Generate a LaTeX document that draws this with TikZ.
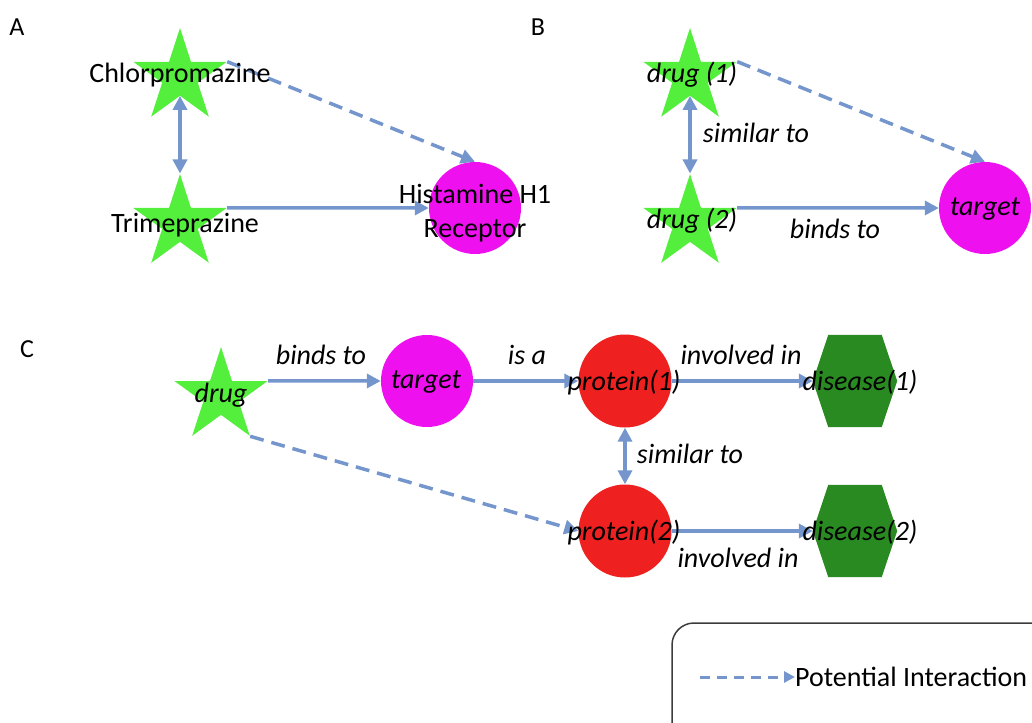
\documentclass[tikz,border=0pt]{standalone}
\usepackage{fontspec}
\setmainfont{Carlito}
\usetikzlibrary{shapes.geometric,arrows.meta}

\definecolor{stargreen}{RGB}{84,238,60}
\definecolor{magentafill}{RGB}{238,16,238}
\definecolor{protred}{RGB}{238,32,32}
\definecolor{disgreen}{RGB}{42,138,34}
\definecolor{linkblue}{RGB}{116,150,204}
\definecolor{framegray}{RGB}{60,60,60}

% green hexagon filling a named rectangle node
\newcommand\hexfill[1]{%
  \fill[disgreen] (#1.west) -- ([xshift=15.5pt]#1.north west)
    -- ([xshift=-15.5pt]#1.north east) -- (#1.east)
    -- ([xshift=-15.5pt]#1.south east) -- ([xshift=15.5pt]#1.south west) -- cycle;}

\begin{document}
\begin{tikzpicture}[x=1pt,y=-1pt,
  drugstar/.style={star, star points=5, star point ratio=2.618,
    minimum size=98pt, inner sep=0pt, fill=stargreen},
  magcircle/.style={circle, minimum size=92pt, inner sep=0pt, fill=magentafill},
  protcircle/.style={circle, minimum size=93pt, inner sep=0pt, fill=protred},
  hexbox/.style={rectangle, minimum width=84pt, minimum height=92pt, inner sep=0pt},
  link/.style={draw=linkblue, line width=3.5pt, -{Triangle[length=14pt,width=14pt]}},
  twoway/.style={draw=linkblue, line width=3.5pt,
    {Triangle[length=14pt,width=14pt]}-{Triangle[length=14pt,width=14pt]}},
  potential/.style={link, dash pattern=on 14pt off 8pt},
  legendlink/.style={draw=linkblue, line width=3pt, dash pattern=on 10pt off 7pt,
    -{Triangle[length=11pt,width=11pt]}},
  lbl/.style={font=\fontsize{28}{30}\selectfont, anchor=base, inner sep=0pt},
  rel/.style={font=\fontsize{28}{30}\selectfont\itshape, anchor=base, inner sep=0pt},
  panel/.style={font=\fontsize{26}{28}\selectfont, anchor=base, inner sep=0pt},
]
\useasboundingbox (0,0) rectangle (1032,722);

% ---------- shapes ----------
% panel A
\node[drugstar] (chl) at (180,77) {};
\node[drugstar] (tri) at (180,223.14) {};
\node[magcircle] (hist) at (475,208) {};
% panel B
\node[drugstar] (d1) at (690,77) {};
\node[drugstar] (d2) at (690,223.14) {};
\node[magcircle] (tgtB) at (985,208) {};
% panel C
\node[drugstar] (drug) at (221,396.14) {};
\node[magcircle] (tgtC) at (427,381) {};
\node[protcircle] (p1) at (625,381) {};
\node[protcircle] (p2) at (625,531) {};
\node[hexbox] (dis1) at (855,381) {};
\node[hexbox] (dis2) at (855,531) {};
\hexfill{dis1}
\hexfill{dis2}

% ---------- connectors ----------
\draw[twoway] (chl.inner point 3) -- (tri.outer point 1);
\draw[link] (tri.outer point 5) -- (hist.west);
\draw[potential] (chl.outer point 5) -- (hist.north);

\draw[twoway] (d1.inner point 3) -- (d2.outer point 1);
\draw[link] (d2.outer point 5) -- (tgtB.west);
\draw[potential] (d1.outer point 5) -- (tgtB.north);

\draw[link] (drug.outer point 5) -- (tgtC.west);
\draw[link] (tgtC.east) -- (p1.west);
\draw[link] (p1.east) -- (dis1.west);
\draw[twoway] (p1.south) -- (p2.north);
\draw[link] (p2.east) -- (dis2.west);
\draw[potential] (drug.outer point 4) -- (p2.west);

% ---------- texts ----------
\node[panel] (labA) at (17,36) {A};
\node[panel] (labB) at (538,36) {B};
\node[panel] (labC) at (27,357) {C};

\node[lbl] (tchl) at (180,83) {Chlorpromazine};
\node[lbl] (ttri) at (185,232) {Trimeprazine};
\node[lbl] (thist1) at (475,203) {Histamine H1};
\node[lbl] (thist2) at (475,237) {Receptor};

\node[rel] (td1) at (692,83) {drug (1)};
\node[rel] (td2) at (692,228) {drug (2)};
\node[rel] (tsimB) at (756,143) {similar to};
\node[rel] (tbindB) at (835,238) {binds to};
\node[rel] (ttgtB) at (985,215) {target};

\node[rel] (tdrug) at (221,402) {drug};
\node[rel] (tbindC) at (321,364) {binds to};
\node[rel] (ttgtC) at (426,388) {target};
\node[rel] (tisa) at (527,364) {is a};
\node[rel] (tp1) at (624,390) {protein(1)};
\node[rel] (tinv1) at (741,364) {involved in};
\node[rel] (tdis1) at (860,390) {disease(1)};
\node[rel] (tsimC) at (690,463) {similar to};
\node[rel] (tp2) at (624,540) {protein(2)};
\node[rel] (tdis2) at (860,540) {disease(2)};
\node[rel] (tinv2) at (738,567) {involved in};

% ---------- legend ----------
\draw[framegray, line width=1.5pt, rounded corners=22pt] (672,623) rectangle (1070,770);
\node[lbl, anchor=base west] (legtext) at (795,686) {Potential Interaction};
\coordinate (legstart) at (700,677);
\draw[legendlink] (legstart) -- (legtext.west |- legstart);
\end{tikzpicture}
\end{document}
